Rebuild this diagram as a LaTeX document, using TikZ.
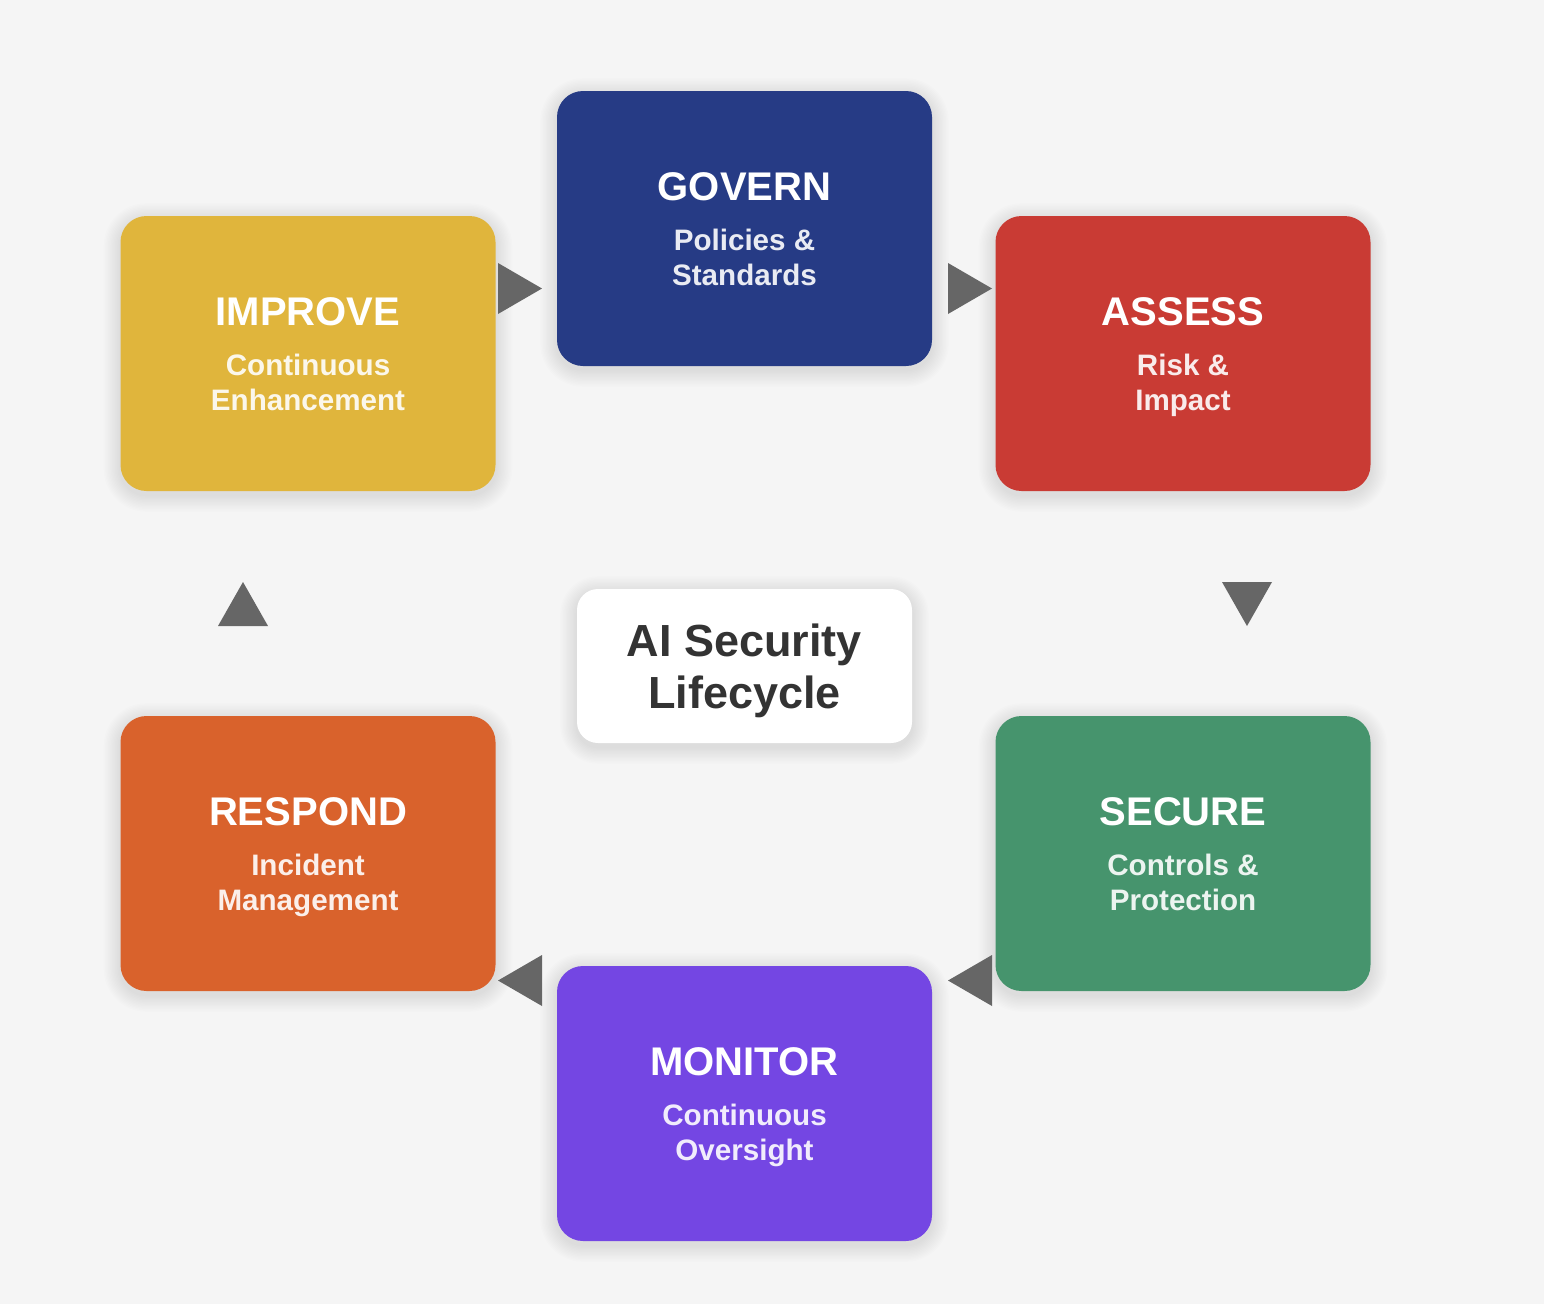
\documentclass[tikz,border=0pt]{standalone}
\usepackage{fontspec}
\setmainfont{Liberation Sans}
\definecolor{bg}{HTML}{F5F5F5}
\definecolor{cgov}{HTML}{263B85}
\definecolor{cass}{HTML}{C93B34}
\definecolor{csec}{HTML}{46946D}
\definecolor{cmon}{HTML}{7446E3}
\definecolor{cres}{HTML}{D9622C}
\definecolor{cimp}{HTML}{E0B53C}
\definecolor{arrowgray}{HTML}{666666}
\definecolor{darktext}{HTML}{333333}
\newcommand\stagebox[7]{%
  \foreach \i in {1,...,12}{%
    \fill[black,opacity=0.0065,rounded corners=26pt+1.4pt*\i]
      (#2-187.5-1.4*\i, #3-137.5-1.4*\i+4) rectangle (#2+187.5+1.4*\i, #3+137.5+1.4*\i+4);}
  \node[stagebox, fill=#4] (#1) at (#2,#3) {};
  \node[ttl] (#1-t) at ([yshift=28.5pt]#1.center) {#5};
  \node[sub] (#1-s1) at ([yshift=-21.5pt]#1.center) {#6};
  \node[sub] (#1-s2) at ([yshift=-57pt]#1.center) {#7};
}
\begin{document}
\begin{tikzpicture}[x=1pt,y=-1pt,
  stagebox/.style={rectangle, rounded corners=26pt, minimum width=375pt, minimum height=275pt, inner sep=0pt, draw=none},
  ttl/.style={font=\bfseries\fontsize{40}{40}\selectfont, text=white, anchor=base, inner sep=0pt},
  sub/.style={font=\bfseries\fontsize{29.6}{35}\selectfont, text=white, text opacity=0.9, anchor=base, inner sep=0pt},
  centerbox/.style={rectangle, rounded corners=21pt, minimum width=335pt, minimum height=154pt, inner sep=0pt, fill=white},
  ctext/.style={font=\bfseries\fontsize{45}{52}\selectfont, text=darktext, anchor=base, inner sep=0pt},
  tri/.style={fill=arrowgray}]
\fill[bg] (0,0) rectangle (1544,1304);
\useasboundingbox (0,0) rectangle (1544,1304);

\stagebox{govern}{744.5}{228.5}{cgov}{GOVERN}{Policies \&}{Standards}
\stagebox{assess}{1183}{353.5}{cass}{ASSESS}{Risk \&}{Impact}
\stagebox{secure}{1183}{853.5}{csec}{SECURE}{Controls \&}{Protection}
\stagebox{monitor}{744.5}{1103.5}{cmon}{MONITOR}{Continuous}{Oversight}
\stagebox{respond}{308}{853.5}{cres}{RESPOND}{Incident}{Management}
\stagebox{improve}{308}{353.5}{cimp}{IMPROVE}{Continuous}{Enhancement}

% centre
\foreach \i in {1,...,12}{%
  \fill[black,opacity=0.006,rounded corners=21pt+1.4pt*\i]
    (577-1.4*\i, 589-1.4*\i+4) rectangle (912+1.4*\i, 743+1.4*\i+4);}
\node[centerbox] (center) at (744.5,666) {};
\node[ctext] (center-1) at ([yshift=10pt]center.center) {AI Security};
\node[ctext] (center-2) at ([yshift=-42pt]center.center) {Lifecycle};

% arrows
\fill[tri] (498,263) -- (542,288.5) -- (498,314) -- cycle;
\fill[tri] (948,263) -- (992,288.5) -- (948,314) -- cycle;
\fill[tri] (1222,582) -- (1272,582) -- (1247,626) -- cycle;
\fill[tri] (992,955) -- (948,980.5) -- (992,1006) -- cycle;
\fill[tri] (542,955) -- (498,980.5) -- (542,1006) -- cycle;
\fill[tri] (218,626) -- (268,626) -- (243,582) -- cycle;
\end{tikzpicture}
\end{document}
